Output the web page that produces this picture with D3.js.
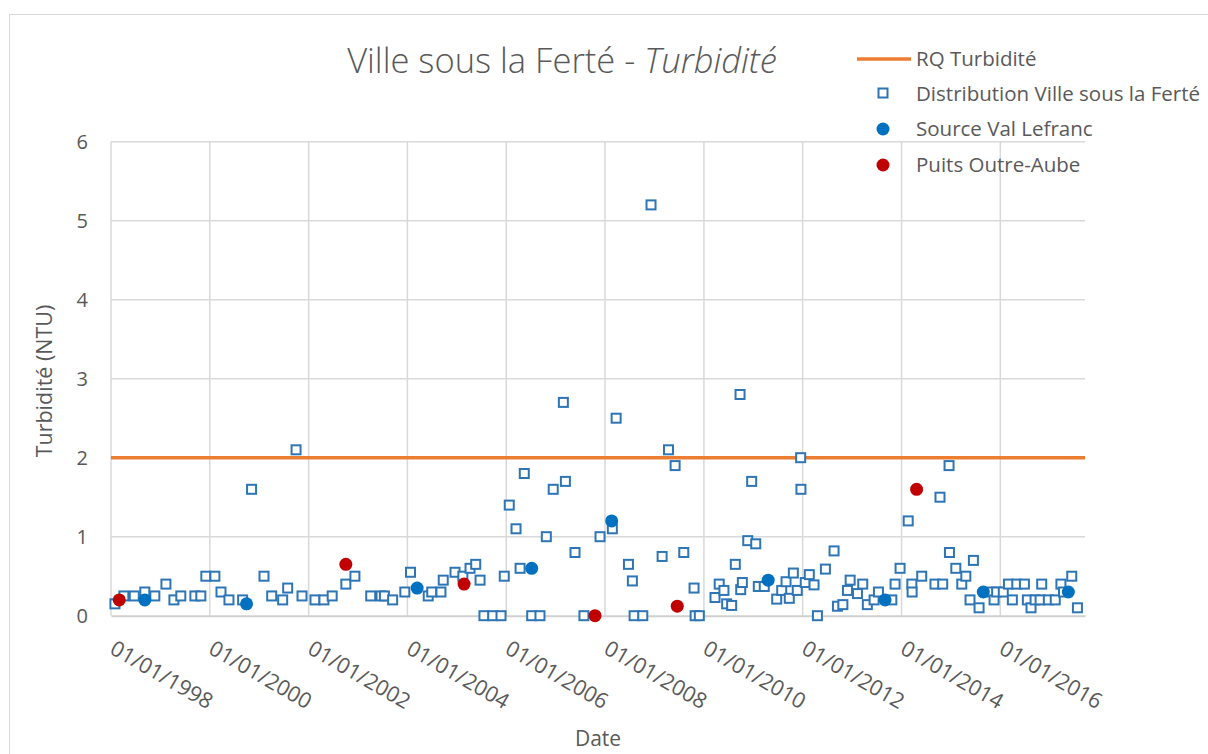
<!DOCTYPE html>
<html>
<head>
<meta charset="utf-8">
<script src="https://cdn.jsdelivr.net/npm/d3@7"></script>
<style>
  body { margin: 0; background: #fff; }
  text { font-family: "Open Sans", "Noto Sans", sans-serif; fill: #595959; }
</style>
</head>
<body>
<div id="chart"></div>
<script>
// Distribution Ville sous la Ferté
const distDates = ['1998-01-30', '1998-04-06', '1998-06-22', '1998-09-08', '1998-11-21',
  '1999-02-11', '1999-04-11', '1999-06-01', '1999-09-13', '1999-10-27', '1999-12-03',
  '2000-02-08', '2000-03-24', '2000-05-22', '2000-08-31', '2000-11-05',
  '2001-02-05', '2001-04-03', '2001-06-23', '2001-07-30', '2001-09-30', '2001-11-13',
  '2002-02-17', '2002-04-24', '2002-06-24', '2002-10-03', '2002-12-09',
  '2003-04-05', '2003-06-20', '2003-07-15', '2003-09-14', '2003-12-13',
  '2004-01-24', '2004-06-03', '2004-06-29', '2004-09-05', '2004-09-22', '2004-12-18',
  '2005-02-14', '2005-04-08', '2005-05-20', '2005-06-21', '2005-07-20', '2005-09-23',
  '2005-11-23', '2005-12-17',
  '2006-01-23', '2006-03-14', '2006-04-13', '2006-05-14', '2006-07-08', '2006-09-07',
  '2006-10-24', '2006-12-14',
  '2007-02-27', '2007-03-14', '2007-05-24', '2007-07-29', '2007-11-25',
  '2008-02-24', '2008-03-23', '2008-06-22', '2008-07-21', '2008-08-03', '2008-10-06', '2008-12-06',
  '2009-02-26', '2009-04-14', '2009-06-02', '2009-08-05', '2009-10-20', '2009-10-28', '2009-11-28',
  '2010-03-24', '2010-04-24', '2010-05-29', '2010-06-18', '2010-07-25', '2010-08-21',
  '2010-09-25', '2010-09-30', '2010-10-12', '2010-11-21', '2010-12-20',
  '2011-01-19', '2011-02-07', '2011-03-23', '2011-06-23', '2011-07-30', '2011-08-31',
  '2011-09-24', '2011-10-24', '2011-11-22', '2011-12-17', '2011-12-19',
  '2012-01-20', '2012-02-19', '2012-03-25', '2012-04-19', '2012-06-17', '2012-08-20',
  '2012-09-14', '2012-10-24', '2012-11-27', '2012-12-17',
  '2013-02-09', '2013-03-20', '2013-04-23', '2013-06-12', '2013-07-14', '2013-10-21',
  '2013-11-14', '2013-12-21',
  '2014-02-19', '2014-03-18', '2014-03-20', '2014-05-30', '2014-09-05', '2014-10-12',
  '2014-11-01', '2014-12-18', '2014-12-21',
  '2015-02-06', '2015-03-22', '2015-04-21', '2015-05-22', '2015-06-16', '2015-07-28',
  '2015-10-30', '2015-11-16', '2015-12-05',
  '2016-01-23', '2016-03-01', '2016-03-30', '2016-05-02', '2016-06-27', '2016-07-19',
  '2016-08-15', '2016-09-14', '2016-10-21', '2016-11-02', '2016-12-21',
  '2017-02-10', '2017-03-24', '2017-04-12', '2017-06-12', '2017-07-24']
const distValues = [0.15, 0.25, 0.25, 0.3, 0.25,
  0.4, 0.2, 0.25, 0.25, 0.25, 0.5,
  0.5, 0.3, 0.2, 0.2, 1.6,
  0.5, 0.25, 0.2, 0.35, 2.1, 0.25,
  0.2, 0.2, 0.25, 0.4, 0.5,
  0.25, 0.25, 0.25, 0.2, 0.3,
  0.55, 0.25, 0.3, 0.3, 0.45, 0.55,
  0.5, 0.6, 0.65, 0.45, 0, 0,
  0, 0.5,
  1.4, 1.1, 0.6, 1.8, 0, 0,
  1.0, 1.6,
  2.7, 1.7, 0.8, 0, 1.0,
  1.1, 2.5, 0.65, 0.44, 0, 0, 5.2,
  0.75, 2.1, 1.9, 0.8, 0.35, 0, 0,
  0.23, 0.4, 0.32, 0.15, 0.13, 0.65,
  2.8, 0.33, 0.42, 0.95, 1.7,
  0.91, 0.37, 0.37, 0.21, 0.32, 0.43,
  0.22, 0.54, 0.32, 2.0, 1.6,
  0.42, 0.52, 0.39, 0, 0.59, 0.82,
  0.12, 0.14, 0.32, 0.45,
  0.28, 0.4, 0.14, 0.2, 0.3, 0.2,
  0.4, 0.6,
  1.2, 0.4, 0.3, 0.5, 0.4, 1.5,
  0.4, 1.9, 0.8,
  0.6, 0.4, 0.5, 0.2, 0.7, 0.1,
  0.3, 0.2, 0.3,
  0.3, 0.4, 0.2, 0.4, 0.4, 0.2,
  0.1, 0.2, 0.2, 0.4, 0.2,
  0.2, 0.4, 0.3, 0.5, 0.1]

// Source Val Lefranc
const sourceDates = ['1998-09-08', '2000-09-29', '2004-03-13', '2006-07-08', '2008-02-19',
  '2011-04-21', '2013-09-01', '2015-08-28', '2017-05-18']
const sourceValues = [0.2, 0.15, 0.35, 0.6, 1.2, 0.45, 0.2, 0.3, 0.3]

// Puits Outre-Aube
const puitsDates = ['1998-03-03', '2002-10-03', '2005-02-23', '2007-10-19', '2009-06-18', '2014-04-22']
const puitsValues = [0.2, 0.65, 0.4, 0, 0.12, 1.6]

// RQ Turbidité
const rqValue = 2

const yTicks = [0, 1, 2, 3, 4, 5, 6]
const xTickYears = [1998, 2000, 2002, 2004, 2006, 2008, 2010, 2012, 2014, 2016]
const legendLabels = ['RQ Turbidité', 'Distribution Ville sous la Ferté', 'Source Val Lefranc', 'Puits Outre-Aube']

const width = 1208, height = 754
const plot = {left: 111, right: 1085, top: 141.7, bottom: 615.7}
const parse = d3.timeParse('%Y-%m-%d')

const x = d3.scaleTime()
  .domain([new Date(1998, 0, 1), new Date(2017, 8, 18)])
  .range([plot.left, plot.right])
const y = d3.scaleLinear()
  .domain([0, 6])
  .range([plot.bottom, plot.top])

const svg = d3.select('#chart').append('svg')
  .attr('width', width)
  .attr('height', height)

// chart area border
svg.append('rect')
  .attr('x', 9.5).attr('y', 14.5)
  .attr('width', width).attr('height', height)
  .attr('fill', 'none')
  .attr('stroke', '#d9d9d9')

// gridlines
const xTicks = xTickYears.map(yr => new Date(yr, 0, 1))
svg.append('g')
  .selectAll('line')
  .data(yTicks.slice(1))
  .enter().append('line')
  .attr('x1', plot.left).attr('x2', plot.right)
  .attr('y1', d => y(d)).attr('y2', d => y(d))
  .attr('stroke', '#d9d9d9')
  .attr('stroke-width', 1.5)
svg.append('g')
  .selectAll('line')
  .data(xTicks)
  .enter().append('line')
  .attr('x1', d => x(d)).attr('x2', d => x(d))
  .attr('y1', plot.top).attr('y2', plot.bottom)
  .attr('stroke', '#d9d9d9')
  .attr('stroke-width', 1.5)

// y axis
const yAxis = svg.append('g')
  .attr('transform', `translate(${plot.left}, 0)`)
  .call(d3.axisLeft(y).tickValues(yTicks).tickSize(0).tickPadding(23).tickFormat(d3.format('d')))
yAxis.select('.domain').remove()
yAxis.selectAll('text')
  .style('font-size', '20px')
  .style('fill', '#595959')
  .style('font-family', '"Open Sans", sans-serif')

// x axis
const xAxis = svg.append('g')
  .attr('transform', `translate(0, ${plot.bottom})`)
  .call(d3.axisBottom(x).tickValues(xTicks).tickSize(0).tickFormat(d3.timeFormat('%d/%m/%Y')))
xAxis.select('.domain')
  .attr('stroke', '#d0d0d0')
  .attr('stroke-width', 2)
xAxis.selectAll('text')
  .style('font-size', '21.5px')
  .style('fill', '#595959')
  .style('font-family', '"Open Sans", sans-serif')
  .attr('text-anchor', 'start')
  .attr('y', 0).attr('dy', 0)
  .attr('transform', 'translate(-3, 37) rotate(30)')

// axis titles
svg.append('text')
  .attr('x', 598).attr('y', 746)
  .attr('text-anchor', 'middle')
  .style('font-size', '21px')
  .text('Date')
svg.append('text')
  .attr('transform', 'translate(52, 381) rotate(-90)')
  .attr('text-anchor', 'middle')
  .style('font-size', '21.5px')
  .text('Turbidité (NTU)')

// title
const title = svg.append('text')
  .attr('x', 562).attr('y', 73)
  .attr('text-anchor', 'middle')
  .style('font-size', '34.5px')
  .style('font-weight', 300)
title.append('tspan').text('Ville sous la Ferté - ')
title.append('tspan').style('font-style', 'italic').text('Turbidité')

// RQ line
svg.append('line')
  .attr('x1', plot.left).attr('x2', plot.right)
  .attr('y1', y(rqValue)).attr('y2', y(rqValue))
  .attr('stroke', '#ed7d31')
  .attr('stroke-width', 3.5)

// distribution squares
const distData = distDates.map((d, i) => ({date: parse(d), value: distValues[i]}))
svg.append('g')
  .selectAll('rect')
  .data(distData)
  .enter().append('rect')
  .attr('x', d => x(d.date) - 4.5)
  .attr('y', d => y(d.value) - 4.5)
  .attr('width', 9).attr('height', 9)
  .attr('fill', '#fff')
  .attr('stroke', '#2e75b6')
  .attr('stroke-width', 2)

// source circles
const sourceData = sourceDates.map((d, i) => ({date: parse(d), value: sourceValues[i]}))
svg.append('g')
  .selectAll('circle')
  .data(sourceData)
  .enter().append('circle')
  .attr('cx', d => x(d.date))
  .attr('cy', d => y(d.value))
  .attr('r', 6.5)
  .attr('fill', '#0070c0')

// puits circles
const puitsData = puitsDates.map((d, i) => ({date: parse(d), value: puitsValues[i]}))
svg.append('g')
  .selectAll('circle')
  .data(puitsData)
  .enter().append('circle')
  .attr('cx', d => x(d.date))
  .attr('cy', d => y(d.value))
  .attr('r', 6.5)
  .attr('fill', '#c00000')

// legend
const legend = svg.append('g')
legend.append('line')
  .attr('x1', 857).attr('x2', 911)
  .attr('y1', 59).attr('y2', 59)
  .attr('stroke', '#ed7d31').attr('stroke-width', 3.5)
legend.append('rect')
  .attr('x', 878.5).attr('y', 88.5).attr('width', 9).attr('height', 9)
  .attr('fill', '#fff').attr('stroke', '#2e75b6').attr('stroke-width', 2)
legend.append('circle')
  .attr('cx', 883).attr('cy', 129).attr('r', 6.5).attr('fill', '#0070c0')
legend.append('circle')
  .attr('cx', 883).attr('cy', 165).attr('r', 6.5).attr('fill', '#c00000')
legend.selectAll('text')
  .data(legendLabels)
  .enter().append('text')
  .attr('x', 916)
  .attr('y', (d, i) => [59, 94, 129, 165][i])
  .attr('dy', '0.35em')
  .style('font-size', '20.5px')
  .text(d => d)
</script>
</body>
</html>
